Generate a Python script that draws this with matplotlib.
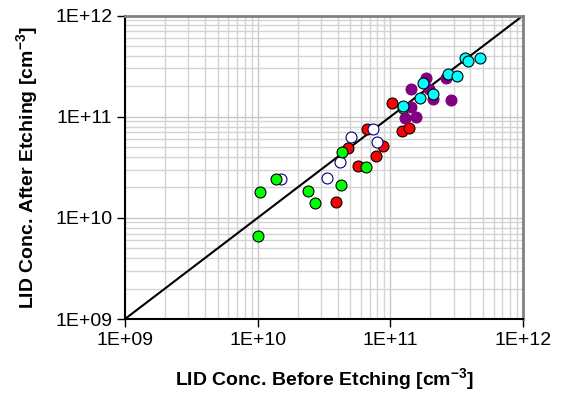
import matplotlib
matplotlib.use("Agg")
import matplotlib.pyplot as plt
from matplotlib.ticker import LogLocator, FixedLocator, NullFormatter

plt.rcParams['font.family'] = ['Liberation Sans', 'DejaVu Sans']
plt.rcParams['mathtext.fontset'] = 'custom'
plt.rcParams['mathtext.rm'] = 'Liberation Sans'
plt.rcParams['mathtext.bf'] = 'Liberation Sans:bold'
plt.rcParams['mathtext.default'] = 'bf'

# data (before etching, after etching) in cm^-3
green_x = [1.01e10, 1.05e10, 1.38e10, 2.39e10, 2.72e10, 4.22e10, 4.35e10, 6.59e10, 1.24e11]
green_y = [6.67e9, 1.82e10, 2.41e10, 1.85e10, 1.39e10, 2.11e10, 4.46e10, 3.16e10, 1.21e11]

red_x = [3.92e10, 5.69e10, 7.83e10, 4.79e10, 8.79e10, 6.65e10, 1.03e11, 1.23e11, 1.39e11]
red_y = [1.45e10, 3.28e10, 4.12e10, 4.94e10, 5.18e10, 7.51e10, 1.38e11, 7.28e10, 7.80e10]

blue_x = [1.51e10, 3.33e10, 4.17e10, 5.08e10, 7.38e10, 7.91e10]
blue_y = [2.41e10, 2.47e10, 3.53e10, 6.35e10, 7.57e10, 5.60e10]

purple_x = [1.43e11, 1.86e11, 1.95e11, 2.09e11, 2.64e11, 2.87e11, 1.44e11, 1.28e11, 1.57e11]
purple_y = [1.87e11, 2.40e11, 1.87e11, 1.48e11, 2.40e11, 1.45e11, 1.26e11, 9.66e10, 1.00e11]

cyan_x = [1.24e11, 1.66e11, 1.76e11, 2.08e11, 2.71e11, 3.18e11, 3.66e11, 3.87e11, 4.78e11]
cyan_y = [1.28e11, 1.52e11, 2.17e11, 1.68e11, 2.65e11, 2.55e11, 3.79e11, 3.57e11, 3.79e11]

line_x = [1e9, 1e12]
line_y = [1e9, 1e12]

tick_vals = [1e9, 1e10, 1e11, 1e12]
tick_labels = ["1E+09", "1E+10", "1E+11", "1E+12"]

fig = plt.figure(figsize=(5.63, 3.99), dpi=100)
ax = fig.add_axes([0.222, 0.2005, 0.707, 0.7605])
ax.set_xscale('log')
ax.set_yscale('log')
ax.set_xlim(1e9, 1e12)
ax.set_ylim(1e9, 1e12)

ax.xaxis.set_major_locator(FixedLocator(tick_vals))
ax.yaxis.set_major_locator(FixedLocator(tick_vals))
ax.set_xticklabels(tick_labels)
ax.set_yticklabels(tick_labels)
ax.xaxis.set_minor_locator(LogLocator(base=10, subs=range(2, 10)))
ax.yaxis.set_minor_locator(LogLocator(base=10, subs=range(2, 10)))
ax.xaxis.set_minor_formatter(NullFormatter())
ax.yaxis.set_minor_formatter(NullFormatter())

ax.grid(which='major', color='#c8c8c8', linewidth=1.0)
ax.grid(which='minor', color='#d4d4d4', linewidth=1.0)
ax.set_axisbelow(True)
ax.tick_params(which='minor', length=0)
ax.tick_params(which='major', direction='out', length=6, width=1, labelsize=14, pad=3)

for side in ['left', 'bottom']:
    ax.spines[side].set_color('black')
    ax.spines[side].set_linewidth(1.5)
for side in ['top', 'right']:
    ax.spines[side].set_color('#808080')
    ax.spines[side].set_linewidth(2)

ax.plot(line_x, line_y, color='black', linewidth=1.5, zorder=2)

ms = 62
ax.scatter(red_x, red_y, s=ms, facecolor='#ff0000', edgecolor='black', linewidth=0.8, zorder=3)
ax.scatter(blue_x, blue_y, s=ms, facecolor='white', edgecolor='#000080', linewidth=0.8, zorder=4)
ax.scatter(green_x, green_y, s=ms, facecolor='#00ff00', edgecolor='black', linewidth=0.8, zorder=5)
ax.scatter(purple_x, purple_y, s=ms, facecolor='#800080', edgecolor='#800080', linewidth=0.8, zorder=6)
ax.scatter(cyan_x, cyan_y, s=ms, facecolor='#00ffff', edgecolor='black', linewidth=0.8, zorder=7)

ax.set_xlabel('LID Conc. Before Etching [cm$^{-3}$]', fontsize=14, fontweight='bold', labelpad=13)
ax.set_ylabel('LID Conc. After Etching [cm$^{-3}$]', fontsize=14, fontweight='bold', labelpad=11)

fig.savefig('out.png', dpi=100)
